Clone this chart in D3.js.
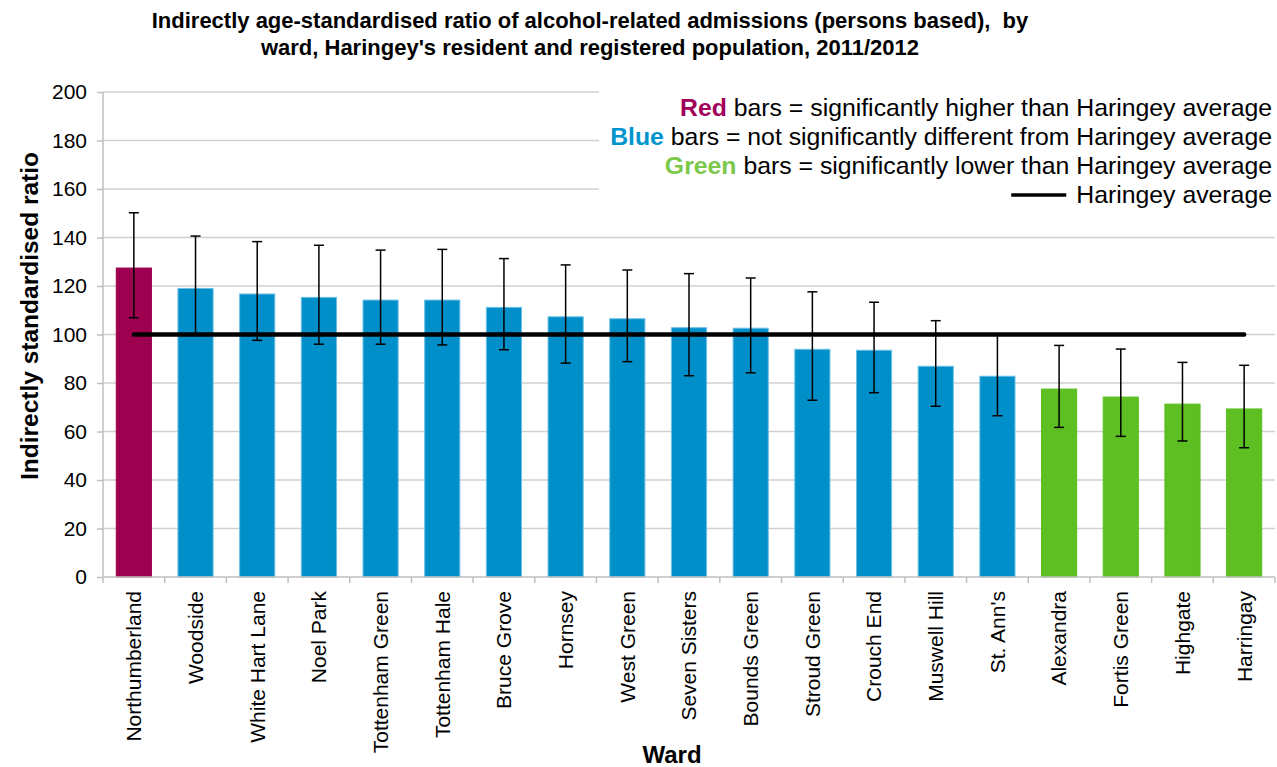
<!DOCTYPE html>
<html><head><meta charset="utf-8">
<script src="https://cdn.jsdelivr.net/npm/d3@7"></script>
<style>body{margin:0;background:#fff}svg{display:block;font-family:"Liberation Sans",Arial,sans-serif}</style>
</head><body><svg id="c" width="1277" height="767"></svg>
<script>
const wards = ["Northumberland","Woodside","White Hart Lane","Noel Park","Tottenham Green","Tottenham Hale","Bruce Grove","Hornsey","West Green","Seven Sisters","Bounds Green","Stroud Green","Crouch End","Muswell Hill","St. Ann's","Alexandra","Fortis Green","Highgate","Harringay"];
const ratio = [127.4,119.0,116.7,115.3,114.2,114.2,111.2,107.3,106.5,102.8,102.6,93.9,93.5,86.9,82.8,77.5,74.2,71.3,69.3];
const upper = [150.2,140.6,138.3,136.8,134.8,135.1,131.3,128.7,126.6,125.1,123.3,117.6,113.3,105.7,100.3,95.5,94.0,88.5,87.3];
const lower = [106.9,100.0,97.6,96.0,96.0,95.7,93.7,88.2,88.8,83.0,84.2,72.9,76.0,70.4,66.5,61.7,58.0,56.1,53.3];
const significance = ["high","same","same","same","same","same","same","same","same","same","same","same","same","same","same","low","low","low","low"];
const average = 100;
const yTicks = [0,20,40,60,80,100,120,140,160,180,200];

const barColor = {high:"#9e0050", same:"#008fc8", low:"#5dbf22"};
const barStroke = {high:"#9e0050", same:"#6cc0e4", low:"#5dbf22"};

const svg = d3.select("#c");
const L=103, R=1275, T=92, B=577;
const x = d3.scaleBand().domain(wards).range([L,R]).paddingInner(0.43).paddingOuter(0.215);
const xb = d3.scaleBand().domain(wards).range([L,R]);
const y = d3.scaleLinear().domain([0,200]).range([B,T]);

// gridlines
svg.append("g").selectAll("line").data(yTicks.filter(d=>d>0)).join("line")
  .attr("x1",L).attr("x2",R).attr("y1",d=>y(d)).attr("y2",d=>y(d))
  .attr("stroke","#d0d0d0").attr("stroke-width",1.5);

// legend background
svg.append("rect").attr("x",599).attr("y",86).attr("width",R-599+2).attr("height",128).attr("fill","#fff");

// bars
svg.append("g").selectAll("rect").data(wards).join("rect")
  .attr("x",d=>x(d)).attr("width",x.bandwidth())
  .attr("y",(d,i)=>y(ratio[i])).attr("height",(d,i)=>B-y(ratio[i]))
  .attr("fill",(d,i)=>barColor[significance[i]])
  .attr("stroke",(d,i)=>barStroke[significance[i]]).attr("stroke-width",1);

// average line
svg.append("line").attr("x1",xb(wards[0])+xb.bandwidth()/2).attr("x2",xb(wards[wards.length-1])+xb.bandwidth()/2)
  .attr("y1",y(average)).attr("y2",y(average)).attr("stroke","#000").attr("stroke-width",4.5).attr("stroke-linecap","round");

// error bars
const eb = svg.append("g").attr("stroke","#000").attr("stroke-width",1.5);
wards.forEach((w,i)=>{
  const cx = xb(w)+xb.bandwidth()/2;
  eb.append("line").attr("x1",cx).attr("x2",cx).attr("y1",y(upper[i])).attr("y2",y(lower[i]));
  [upper[i],lower[i]].forEach(v=>eb.append("line").attr("x1",cx-5).attr("x2",cx+5).attr("y1",y(v)).attr("y2",y(v)));
});

// y axis
const ya = svg.append("g").attr("transform",`translate(${L},0)`)
  .call(d3.axisLeft(y).tickValues(yTicks).tickSize(6).tickPadding(10));
ya.select(".domain").attr("stroke","#bfbfbf").attr("stroke-width",1.5).attr("d",`M0,${T}V${B}`);
ya.selectAll(".tick line").attr("stroke","#bfbfbf").attr("stroke-width",1.5);
ya.selectAll(".tick text").attr("font-size",21).attr("fill","#000").attr("font-family","Liberation Sans, Arial");

// x axis
const xa = svg.append("g").attr("transform",`translate(0,${B})`)
  .call(d3.axisBottom(xb).tickSize(0).tickFormat(d=>d));
xa.select(".domain").attr("stroke","#bfbfbf").attr("stroke-width",1.5).attr("d",`M${L},0H${R}`);
xa.selectAll(".tick text").attr("font-size",21).attr("fill","#000").attr("font-family","Liberation Sans, Arial")
  .attr("text-anchor","end").attr("transform","rotate(-90)").attr("x",-14).attr("y",0).attr("dy","0.35em");
// boundary ticks
svg.append("g").selectAll("line").data(d3.range(wards.length+1)).join("line")
  .attr("x1",i=>L+i*xb.step()).attr("x2",i=>L+i*xb.step()).attr("y1",B).attr("y2",B+6)
  .attr("stroke","#bfbfbf").attr("stroke-width",1.5);

// titles
const title = svg.append("text").attr("text-anchor","middle").attr("font-weight","bold").attr("font-size",22).attr("fill","#000").style("white-space","pre");
title.append("tspan").attr("x",590).attr("y",28).text("Indirectly age-standardised ratio of alcohol-related admissions (persons based),  by");
title.append("tspan").attr("x",590).attr("y",55).text("ward, Haringey's resident and registered population, 2011/2012");

svg.append("text").attr("transform",`translate(38,316) rotate(-90)`).attr("text-anchor","middle")
  .attr("font-weight","bold").attr("font-size",24.5).text("Indirectly standardised ratio");
svg.append("text").attr("x",672).attr("y",763).attr("text-anchor","middle")
  .attr("font-weight","bold").attr("font-size",24).text("Ward");

// legend
const legendItems = [
  {key:"Red", color:"#a0005a", rest:" bars = significantly higher than Haringey average"},
  {key:"Blue", color:"#0095cc", rest:" bars = not significantly different from Haringey average"},
  {key:"Green", color:"#7cc84a", rest:" bars = significantly lower than Haringey average"}
];
const lg = svg.append("g").attr("font-size",24.8);
legendItems.forEach((it,i)=>{
  const t = lg.append("text").attr("x",1272).attr("y",116+i*29).attr("text-anchor","end");
  t.append("tspan").attr("font-weight","bold").attr("fill",it.color).text(it.key);
  t.append("tspan").attr("fill","#000").text(it.rest);
});
const lt = lg.append("text").attr("x",1272).attr("y",203).attr("text-anchor","end").attr("fill","#000").text("Haringey average");
const ltw = lt.node().getComputedTextLength();
lg.append("line").attr("x1",1272-ltw-65).attr("x2",1272-ltw-10).attr("y1",195).attr("y2",195).attr("stroke","#000").attr("stroke-width",3.5);
</script></body></html>
